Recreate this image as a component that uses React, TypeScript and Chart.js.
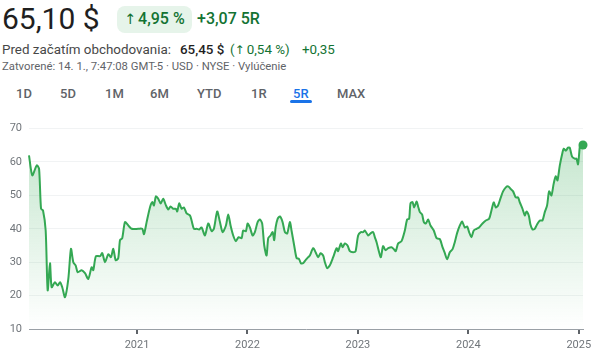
import React, { useEffect, useRef } from "react";
import { Chart, registerables } from "chart.js";

Chart.register(...registerables);

// Time as decimal years, price in USD
const TIMES = [
  2020.022, 2020.052, 2020.092, 2020.113, 2020.131, 2020.149, 2020.173, 2020.191, 2020.212, 2020.227,
  2020.257, 2020.282, 2020.303, 2020.323, 2020.348, 2020.378, 2020.402, 2020.423, 2020.445, 2020.463,
  2020.499, 2020.529, 2020.559, 2020.589, 2020.604, 2020.628, 2020.665, 2020.685, 2020.71, 2020.74,
  2020.764, 2020.785, 2020.807, 2020.83, 2020.846, 2020.866, 2020.891, 2020.921, 2020.951, 2021.011,
  2021.047, 2021.063, 2021.087, 2021.117, 2021.138, 2021.153, 2021.171, 2021.192, 2021.214, 2021.237,
  2021.262, 2021.283, 2021.304, 2021.328, 2021.352, 2021.364, 2021.382, 2021.404, 2021.425, 2021.449,
  2021.479, 2021.494, 2021.515, 2021.54, 2021.563, 2021.585, 2021.615, 2021.645, 2021.675, 2021.696,
  2021.726, 2021.751, 2021.775, 2021.805, 2021.826, 2021.847, 2021.871, 2021.895, 2021.92, 2021.947,
  2021.961, 2021.986, 2022.001, 2022.022, 2022.047, 2022.067, 2022.092, 2022.113, 2022.133, 2022.152,
  2022.173, 2022.188, 2022.209, 2022.228, 2022.242, 2022.255, 2022.273, 2022.294, 2022.318, 2022.339,
  2022.36, 2022.384, 2022.399, 2022.423, 2022.445, 2022.466, 2022.484, 2022.504, 2022.526, 2022.55,
  2022.565, 2022.595, 2022.617, 2022.64, 2022.662, 2022.685, 2022.701, 2022.722, 2022.746, 2022.776,
  2022.807, 2022.821, 2022.846, 2022.861, 2022.882, 2022.906, 2022.927, 2022.957, 2022.979, 2023.002,
  2023.027, 2023.047, 2023.063, 2023.093, 2023.117, 2023.138, 2023.153, 2023.169, 2023.192, 2023.208,
  2023.228, 2023.25, 2023.274, 2023.304, 2023.325, 2023.343, 2023.364, 2023.395, 2023.425, 2023.446,
  2023.464, 2023.476, 2023.495, 2023.509, 2023.531, 2023.545, 2023.561, 2023.581, 2023.597, 2023.615,
  2023.636, 2023.657, 2023.687, 2023.712, 2023.742, 2023.766, 2023.787, 2023.808, 2023.832, 2023.857,
  2023.877, 2023.898, 2023.923, 2023.943, 2023.968, 2023.989, 2024.007, 2024.028, 2024.049, 2024.074,
  2024.097, 2024.128, 2024.158, 2024.188, 2024.209, 2024.23, 2024.248, 2024.269, 2024.291, 2024.314,
  2024.339, 2024.36, 2024.381, 2024.405, 2024.429, 2024.45, 2024.466, 2024.49, 2024.511, 2024.526,
  2024.547, 2024.562, 2024.581, 2024.601, 2024.622, 2024.647, 2024.671, 2024.692, 2024.713, 2024.731,
  2024.752, 2024.773, 2024.791, 2024.807, 2024.828, 2024.852, 2024.864, 2024.882, 2024.903, 2024.918,
  2024.939, 2024.963, 2024.979, 2024.993, 2025.009, 2025.018, 2025.038,
];

const PRICES = [
  62, 56, 59, 58, 46, 45.5, 39.5, 21.6, 29.7, 22.5,
  24, 23, 24, 22.5, 19.5, 25, 34, 30, 29, 27,
  27.6, 26.7, 25, 28.5, 27.6, 31.8, 31.8, 32.7, 30, 32.4,
  31.5, 34, 30.6, 31.2, 36.6, 37.2, 42, 41, 40, 40,
  40, 38.4, 42, 46.4, 48, 47, 49.7, 49, 47.6, 49,
  47, 45.8, 46.7, 46, 46, 45.2, 47.6, 46, 46.4, 44.6,
  44, 42.5, 40, 40, 39.8, 40.4, 38, 41.6, 39.3, 40,
  45.2, 42, 39, 41, 44.3, 41, 38, 36.3, 37.5, 37.2,
  39.5, 39.3, 41.6, 40.4, 38, 39, 42, 42.8, 41.6, 35,
  32, 37.2, 38, 39, 36.6, 40.4, 43, 43.7, 42, 39,
  38.6, 42, 39.5, 35, 31.2, 31, 29.7, 29.7, 30.6, 31.5,
  32, 34.2, 33, 31.5, 32.7, 32, 30, 28.2, 29.1, 31.5,
  34.2, 33.3, 35.6, 34.5, 35.6, 35, 33.3, 33, 33.3, 38,
  39, 39, 39.5, 38, 38.7, 39, 37.5, 36, 33, 31.5,
  34.8, 33.6, 34.2, 34.5, 33.9, 33.3, 35.6, 36.3, 39.5, 42.8,
  43, 47.6, 48, 46.4, 48.2, 46.7, 45, 44.3, 42, 41.6,
  42.8, 41, 39.5, 37.2, 36.9, 34.5, 32.7, 30.9, 33, 33.9,
  36, 38.7, 41, 42.2, 40.4, 40.7, 39, 37.5, 39.5, 40,
  40.4, 41.6, 42.5, 43, 45.5, 47.9, 46.4, 47, 49.1, 51.2,
  52.4, 52.7, 52, 51.2, 49.4, 49.4, 47.9, 46, 44, 45.2,
  44, 41.3, 39.8, 40, 41.3, 42.5, 42.5, 45, 47, 51.2,
  50, 53.6, 55.7, 54.5, 59, 62.8, 64, 63.4, 64.3, 64.3,
  61.6, 61, 61, 59.3, 64.6, 65.8, 65.1,
];

const YEAR_TICKS = [2021, 2022, 2023, 2024, 2025];
const Y_MIN = 10;
const Y_MAX = 70;
const Y_STEP = 10;

const TABS = ["1D", "5D", "1M", "6M", "YTD", "1R", "5R", "MAX"];
const TAB_LEFTS = [16, 60, 105, 150, 197, 251, 293, 337];
const ACTIVE_TAB = "5R";

const GREEN = "#34a853";
const TEXT_GREEN = "#137333";
const FONT = "Roboto, 'Noto Sans', sans-serif";

function PriceChart() {
  const ref = useRef<HTMLCanvasElement | null>(null);
  useEffect(() => {
    if (!ref.current) return;
    const data = TIMES.map((t, i) => ({ x: t, y: PRICES[i] }));
    const last = data.length - 1;
    const chart = new Chart(ref.current, {
      type: "line",
      data: {
        datasets: [
          {
            data,
            borderColor: GREEN,
            borderWidth: 2,
            tension: 0.25,
            fill: "start",
            clip: false as any,
            backgroundColor: (ctx: any) => {
              const area = ctx.chart.chartArea;
              if (!area) return "rgba(52,168,83,0.2)";
              const g = ctx.chart.ctx.createLinearGradient(0, area.top, 0, area.bottom);
              g.addColorStop(0, "rgba(52,168,83,0.30)");
              g.addColorStop(1, "rgba(52,168,83,0.0)");
              return g;
            },
            pointRadius: (ctx: any) => (ctx.dataIndex === last ? 4.5 : 0),
            pointBackgroundColor: GREEN,
            pointBorderWidth: 0,
            pointHoverRadius: 0,
          },
        ],
      },
      options: {
        animation: false,
        responsive: false,
        maintainAspectRatio: false,
        layout: { padding: { top: 13, right: 19, left: 0, bottom: 0 } },
        plugins: { legend: { display: false }, tooltip: { enabled: false } },
        scales: {
          x: {
            type: "linear",
            min: TIMES[0],
            max: TIMES[TIMES.length - 1],
            afterBuildTicks: (axis: any) => {
              axis.ticks = YEAR_TICKS.map((v) => ({ value: v }));
            },
            afterFit: (axis: any) => {
              axis.height = 27;
            },
            border: { display: true, color: "#9aa0a6", width: 1 },
            grid: {
              drawOnChartArea: false,
              drawTicks: true,
              tickLength: 5,
              color: "#5f6368",
              lineWidth: 2,
            },
            ticks: {
              autoSkip: false,
              maxRotation: 0,
              padding: 5,
              color: "#70757a",
              font: { family: FONT, size: 11 },
              callback: (v: any) => String(v),
            },
          },
          y: {
            min: Y_MIN,
            max: Y_MAX,
            afterFit: (axis: any) => {
              axis.width = 29;
            },
            border: { display: false },
            grid: { color: "#f1f3f4", lineWidth: 1, drawTicks: false },
            ticks: {
              stepSize: Y_STEP,
              padding: 7,
              color: "#70757a",
              font: { family: FONT, size: 11 },
            },
          },
        },
      },
    });
    return () => chart.destroy();
  }, []);
  return (
    <canvas
      ref={ref}
      width={602}
      height={241}
      style={{ position: "absolute", left: 0, top: 115, width: 602, height: 241 }}
    />
  );
}

function Txt(props: { left: number; top: number; size: number; color: string; weight?: number; children: any }) {
  return (
    <div
      style={{
        position: "absolute",
        left: props.left,
        top: props.top,
        fontSize: props.size,
        lineHeight: 1,
        color: props.color,
        fontWeight: props.weight ?? 400,
        whiteSpace: "nowrap",
        fontFamily: FONT,
      }}
    >
      {props.children}
    </div>
  );
}

function Arrow() {
  return (
    <span
      style={{
        fontFamily: "'DejaVu Sans', sans-serif",
        fontWeight: 400,
        fontSize: "0.9em",
        marginRight: 2,
      }}
    >
      ↑
    </span>
  );
}

export default function App() {
  return (
    <div
      style={{
        position: "fixed",
        left: 0,
        top: 0,
        width: 602,
        height: 356,
        background: "#fff",
        overflow: "hidden",
        fontFamily: FONT,
      }}
    >
      <Txt left={2} top={4} size={30} color="#1f1f1f">65,10 $</Txt>
      <div
        style={{
          position: "absolute",
          left: 117,
          top: 6,
          width: 75,
          height: 27,
          background: "#e6f4ea",
          borderRadius: 8,
        }}
      />
      <Txt left={124} top={11} size={16} color={TEXT_GREEN} weight={500}>
        <Arrow />4,95 %
      </Txt>
      <Txt left={197} top={11} size={16} color={TEXT_GREEN} weight={500}>+3,07 5R</Txt>

      <Txt left={2} top={43} size={13.4} color="#474747">Pred začatím obchodovania:</Txt>
      <Txt left={180} top={43} size={13.4} color="#1f1f1f" weight={500}>65,45 $</Txt>
      <Txt left={230} top={43} size={13.4} color={TEXT_GREEN}>
        (<Arrow />0,54 %)
      </Txt>
      <Txt left={302} top={43} size={13.4} color={TEXT_GREEN}>+0,35</Txt>

      <Txt left={2} top={61} size={11.3} color="#5f6368">
        Zatvorené: 14. 1., 7:47:08 GMT-5 · USD · NYSE · Vylúčenie
      </Txt>

      {TABS.map((t, i) => (
        <Txt
          key={t}
          left={TAB_LEFTS[i]}
          top={87}
          size={13}
          weight={500}
          color={t === ACTIVE_TAB ? "#1a73e8" : "#5f6368"}
        >
          {t}
        </Txt>
      ))}
      <div
        style={{
          position: "absolute",
          left: 290,
          top: 100,
          width: 22,
          height: 3,
          borderRadius: 2,
          background: "#1a73e8",
        }}
      />
      <PriceChart />
    </div>
  );
}
